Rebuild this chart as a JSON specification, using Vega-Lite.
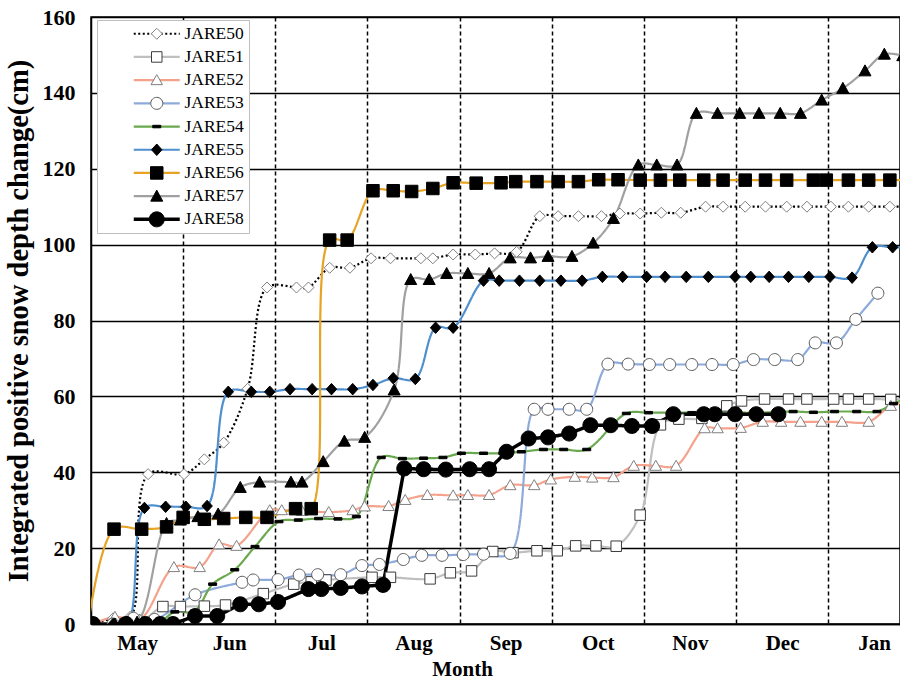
{
  "$schema": "https://vega.github.io/schema/vega-lite/v6.json",
  "width": 809,
  "height": 607,
  "autosize": {"type": "none"},
  "padding": {"left": 91, "top": 17, "right": 0, "bottom": 59},
  "background": "white",
  "config": {
    "view": {"stroke": "black", "strokeWidth": 1.5},
    "font": "Liberation Serif"
  },
  "datasets": {
    "snow": [
      {"s":"JARE50","m":0.02,"v":0},{"s":"JARE50","m":0.24,"v":1.5},{"s":"JARE50","m":0.43,"v":2},{"s":"JARE50","m":0.62,"v":39.5},{"s":"JARE50","m":1.01,"v":39.5},{"s":"JARE50","m":1.23,"v":43.4},{"s":"JARE50","m":1.44,"v":47.8},{"s":"JARE50","m":1.70,"v":62},{"s":"JARE50","m":1.91,"v":88.7},{"s":"JARE50","m":2.23,"v":88.7},{"s":"JARE50","m":2.36,"v":88.7},{"s":"JARE50","m":2.59,"v":93.9},{"s":"JARE50","m":2.81,"v":93.9},{"s":"JARE50","m":3.04,"v":96.4},{"s":"JARE50","m":3.25,"v":96.4},{"s":"JARE50","m":3.58,"v":96.4},{"s":"JARE50","m":3.71,"v":96.4},{"s":"JARE50","m":3.93,"v":97.4},{"s":"JARE50","m":4.17,"v":97.4},{"s":"JARE50","m":4.38,"v":97.7},{"s":"JARE50","m":4.62,"v":98.1},{"s":"JARE50","m":4.87,"v":107.5},{"s":"JARE50","m":5.07,"v":107.5},{"s":"JARE50","m":5.29,"v":107.5},{"s":"JARE50","m":5.54,"v":107.5},{"s":"JARE50","m":5.74,"v":108.2},{"s":"JARE50","m":5.96,"v":108.2},{"s":"JARE50","m":6.19,"v":108.4},{"s":"JARE50","m":6.40,"v":108.4},{"s":"JARE50","m":6.67,"v":110},{"s":"JARE50","m":6.86,"v":110},{"s":"JARE50","m":7.10,"v":110},{"s":"JARE50","m":7.32,"v":110},{"s":"JARE50","m":7.55,"v":110},{"s":"JARE50","m":7.77,"v":110},{"s":"JARE50","m":8.03,"v":110},{"s":"JARE50","m":8.22,"v":110},{"s":"JARE50","m":8.44,"v":110},{"s":"JARE50","m":8.67,"v":110},{"s":"JARE50","m":8.91,"v":110},

      {"s":"JARE51","m":0.02,"v":0},{"s":"JARE51","m":0.26,"v":0},{"s":"JARE51","m":0.53,"v":0.5},{"s":"JARE51","m":0.78,"v":4.6},{"s":"JARE51","m":0.97,"v":4.6},{"s":"JARE51","m":1.23,"v":4.7},{"s":"JARE51","m":1.46,"v":5},{"s":"JARE51","m":1.87,"v":8},{"s":"JARE51","m":2.20,"v":10.5},{"s":"JARE51","m":2.39,"v":11.1},{"s":"JARE51","m":2.55,"v":11.6},{"s":"JARE51","m":3.05,"v":12.3},{"s":"JARE51","m":3.25,"v":12.3},{"s":"JARE51","m":3.68,"v":11.9},{"s":"JARE51","m":3.90,"v":13.5},{"s":"JARE51","m":4.13,"v":14},{"s":"JARE51","m":4.36,"v":19.1},{"s":"JARE51","m":4.58,"v":18.8},{"s":"JARE51","m":4.84,"v":19.3},{"s":"JARE51","m":5.06,"v":19.3},{"s":"JARE51","m":5.26,"v":20.6},{"s":"JARE51","m":5.48,"v":20.6},{"s":"JARE51","m":5.70,"v":20.5},{"s":"JARE51","m":5.96,"v":28.7},{"s":"JARE51","m":6.18,"v":52.5},{"s":"JARE51","m":6.38,"v":54},{"s":"JARE51","m":6.63,"v":54.2},{"s":"JARE51","m":6.90,"v":57.5},{"s":"JARE51","m":7.06,"v":58.8},{"s":"JARE51","m":7.31,"v":59.3},{"s":"JARE51","m":7.57,"v":59.3},{"s":"JARE51","m":7.77,"v":59.3},{"s":"JARE51","m":8.06,"v":59.3},{"s":"JARE51","m":8.22,"v":59.3},{"s":"JARE51","m":8.44,"v":59.3},{"s":"JARE51","m":8.68,"v":59.2},{"s":"JARE51","m":8.91,"v":59.2},

      {"s":"JARE52","m":0.02,"v":0},{"s":"JARE52","m":0.26,"v":1.9},{"s":"JARE52","m":0.53,"v":1.2},{"s":"JARE52","m":0.90,"v":15},{"s":"JARE52","m":1.18,"v":15},{"s":"JARE52","m":1.39,"v":21},{"s":"JARE52","m":1.58,"v":20.6},{"s":"JARE52","m":1.94,"v":30},{"s":"JARE52","m":2.07,"v":30},{"s":"JARE52","m":2.29,"v":29.8},{"s":"JARE52","m":2.58,"v":29.5},{"s":"JARE52","m":2.84,"v":30},{"s":"JARE52","m":2.97,"v":31},{"s":"JARE52","m":3.23,"v":31.1},{"s":"JARE52","m":3.41,"v":32.7},{"s":"JARE52","m":3.65,"v":34},{"s":"JARE52","m":3.93,"v":33.9},{"s":"JARE52","m":4.09,"v":34},{"s":"JARE52","m":4.32,"v":34},{"s":"JARE52","m":4.55,"v":36.6},{"s":"JARE52","m":4.81,"v":36.6},{"s":"JARE52","m":4.99,"v":38.1},{"s":"JARE52","m":5.25,"v":38.8},{"s":"JARE52","m":5.44,"v":38.6},{"s":"JARE52","m":5.67,"v":38.7},{"s":"JARE52","m":5.89,"v":41.7},{"s":"JARE52","m":6.13,"v":41.7},{"s":"JARE52","m":6.35,"v":41.7},{"s":"JARE52","m":6.66,"v":51.6},{"s":"JARE52","m":6.80,"v":51.6},{"s":"JARE52","m":7.05,"v":51.7},{"s":"JARE52","m":7.29,"v":53.3},{"s":"JARE52","m":7.49,"v":53.3},{"s":"JARE52","m":7.70,"v":53.3},{"s":"JARE52","m":7.93,"v":53.3},{"s":"JARE52","m":8.15,"v":53.3},{"s":"JARE52","m":8.44,"v":53.3},{"s":"JARE52","m":8.68,"v":57.5},{"s":"JARE52","m":8.91,"v":59},

      {"s":"JARE53","m":0.02,"v":0},{"s":"JARE53","m":0.24,"v":0},{"s":"JARE53","m":0.46,"v":1.5},{"s":"JARE53","m":0.69,"v":1.2},{"s":"JARE53","m":1.13,"v":7.7},{"s":"JARE53","m":1.64,"v":11},{"s":"JARE53","m":1.76,"v":11.6},{"s":"JARE53","m":2.03,"v":11.7},{"s":"JARE53","m":2.26,"v":12.9},{"s":"JARE53","m":2.46,"v":13},{"s":"JARE53","m":2.71,"v":13},{"s":"JARE53","m":2.94,"v":15.4},{"s":"JARE53","m":3.13,"v":15.7},{"s":"JARE53","m":3.39,"v":17},{"s":"JARE53","m":3.59,"v":18.1},{"s":"JARE53","m":3.81,"v":18.1},{"s":"JARE53","m":4.04,"v":18.3},{"s":"JARE53","m":4.26,"v":18.4},{"s":"JARE53","m":4.55,"v":18.6},{"s":"JARE53","m":4.81,"v":56.6},{"s":"JARE53","m":4.96,"v":56.6},{"s":"JARE53","m":5.19,"v":56.6},{"s":"JARE53","m":5.38,"v":56.6},{"s":"JARE53","m":5.61,"v":68.5},{"s":"JARE53","m":5.83,"v":68.5},{"s":"JARE53","m":6.06,"v":68.4},{"s":"JARE53","m":6.28,"v":68.4},{"s":"JARE53","m":6.52,"v":68.4},{"s":"JARE53","m":6.74,"v":68.4},{"s":"JARE53","m":6.97,"v":68.4},{"s":"JARE53","m":7.19,"v":69.7},{"s":"JARE53","m":7.42,"v":69.7},{"s":"JARE53","m":7.67,"v":69.7},{"s":"JARE53","m":7.86,"v":74.1},{"s":"JARE53","m":8.09,"v":74.1},{"s":"JARE53","m":8.30,"v":80.3},{"s":"JARE53","m":8.54,"v":87.2},

      {"s":"JARE54","m":0.02,"v":0},{"s":"JARE54","m":0.26,"v":0},{"s":"JARE54","m":0.50,"v":0},{"s":"JARE54","m":0.73,"v":0.3},{"s":"JARE54","m":0.91,"v":3.2},{"s":"JARE54","m":1.12,"v":3.3},{"s":"JARE54","m":1.32,"v":10.5},{"s":"JARE54","m":1.56,"v":14.3},{"s":"JARE54","m":1.78,"v":20.4},{"s":"JARE54","m":2.04,"v":27},{"s":"JARE54","m":2.25,"v":27.4},{"s":"JARE54","m":2.47,"v":27.8},{"s":"JARE54","m":2.68,"v":27.7},{"s":"JARE54","m":2.88,"v":28.3},{"s":"JARE54","m":3.15,"v":43.9},{"s":"JARE54","m":3.38,"v":43.6},{"s":"JARE54","m":3.61,"v":43.7},{"s":"JARE54","m":3.82,"v":43.9},{"s":"JARE54","m":4.02,"v":45},{"s":"JARE54","m":4.26,"v":45},{"s":"JARE54","m":4.47,"v":45},{"s":"JARE54","m":4.67,"v":45.4},{"s":"JARE54","m":4.91,"v":46},{"s":"JARE54","m":5.13,"v":46},{"s":"JARE54","m":5.38,"v":46},{"s":"JARE54","m":5.81,"v":55.5},{"s":"JARE54","m":6.05,"v":55.7},{"s":"JARE54","m":6.30,"v":55.7},{"s":"JARE54","m":6.52,"v":55.7},{"s":"JARE54","m":6.77,"v":55.7},{"s":"JARE54","m":7.01,"v":55.7},{"s":"JARE54","m":7.25,"v":55.7},{"s":"JARE54","m":7.62,"v":56},{"s":"JARE54","m":7.84,"v":55.8},{"s":"JARE54","m":8.07,"v":56},{"s":"JARE54","m":8.31,"v":56},{"s":"JARE54","m":8.53,"v":56},{"s":"JARE54","m":8.71,"v":58.1},{"s":"JARE54","m":8.91,"v":60},

      {"s":"JARE55","m":0.02,"v":0},{"s":"JARE55","m":0.24,"v":0},{"s":"JARE55","m":0.40,"v":0.5},{"s":"JARE55","m":0.58,"v":30.6},{"s":"JARE55","m":0.81,"v":30.9},{"s":"JARE55","m":1.03,"v":30.9},{"s":"JARE55","m":1.26,"v":31.1},{"s":"JARE55","m":1.49,"v":61.2},{"s":"JARE55","m":1.74,"v":61.2},{"s":"JARE55","m":1.94,"v":61.2},{"s":"JARE55","m":2.16,"v":61.9},{"s":"JARE55","m":2.40,"v":61.9},{"s":"JARE55","m":2.61,"v":61.9},{"s":"JARE55","m":2.84,"v":61.9},{"s":"JARE55","m":3.06,"v":63},{"s":"JARE55","m":3.28,"v":64.8},{"s":"JARE55","m":3.52,"v":64.6},{"s":"JARE55","m":3.74,"v":78.1},{"s":"JARE55","m":3.93,"v":78.1},{"s":"JARE55","m":4.26,"v":90.5},{"s":"JARE55","m":4.43,"v":90.5},{"s":"JARE55","m":4.65,"v":90.5},{"s":"JARE55","m":4.87,"v":90.5},{"s":"JARE55","m":5.10,"v":90.5},{"s":"JARE55","m":5.33,"v":90.5},{"s":"JARE55","m":5.55,"v":91.5},{"s":"JARE55","m":5.77,"v":91.5},{"s":"JARE55","m":6.03,"v":91.5},{"s":"JARE55","m":6.23,"v":91.5},{"s":"JARE55","m":6.46,"v":91.5},{"s":"JARE55","m":6.70,"v":91.5},{"s":"JARE55","m":6.99,"v":91.5},{"s":"JARE55","m":7.16,"v":91.5},{"s":"JARE55","m":7.36,"v":91.5},{"s":"JARE55","m":7.57,"v":91.5},{"s":"JARE55","m":7.79,"v":91.5},{"s":"JARE55","m":8.02,"v":91.5},{"s":"JARE55","m":8.26,"v":91.3},{"s":"JARE55","m":8.48,"v":99.3},{"s":"JARE55","m":8.70,"v":99.3},{"s":"JARE55","m":8.91,"v":99.3},

      {"s":"JARE56","m":-0.03,"v":0},{"s":"JARE56","m":0.25,"v":25},{"s":"JARE56","m":0.55,"v":25},{"s":"JARE56","m":0.82,"v":25.6},{"s":"JARE56","m":1.00,"v":28.1},{"s":"JARE56","m":1.23,"v":27.6},{"s":"JARE56","m":1.44,"v":27.8},{"s":"JARE56","m":1.68,"v":28.1},{"s":"JARE56","m":1.91,"v":28.1},{"s":"JARE56","m":2.22,"v":30.4},{"s":"JARE56","m":2.39,"v":30.4},{"s":"JARE56","m":2.59,"v":101.2},{"s":"JARE56","m":2.78,"v":101.2},{"s":"JARE56","m":3.06,"v":114.2},{"s":"JARE56","m":3.28,"v":114.2},{"s":"JARE56","m":3.48,"v":114},{"s":"JARE56","m":3.71,"v":114.8},{"s":"JARE56","m":3.93,"v":116.3},{"s":"JARE56","m":4.18,"v":116.2},{"s":"JARE56","m":4.45,"v":116.3},{"s":"JARE56","m":4.61,"v":116.6},{"s":"JARE56","m":4.84,"v":116.6},{"s":"JARE56","m":5.07,"v":116.6},{"s":"JARE56","m":5.29,"v":116.6},{"s":"JARE56","m":5.51,"v":117.1},{"s":"JARE56","m":5.72,"v":117.1},{"s":"JARE56","m":5.96,"v":117},{"s":"JARE56","m":6.18,"v":117},{"s":"JARE56","m":6.39,"v":117},{"s":"JARE56","m":6.65,"v":117},{"s":"JARE56","m":6.86,"v":117},{"s":"JARE56","m":7.10,"v":117},{"s":"JARE56","m":7.32,"v":117},{"s":"JARE56","m":7.55,"v":117},{"s":"JARE56","m":7.84,"v":117},{"s":"JARE56","m":7.98,"v":117},{"s":"JARE56","m":8.22,"v":117},{"s":"JARE56","m":8.44,"v":117},{"s":"JARE56","m":8.67,"v":117},{"s":"JARE56","m":8.91,"v":117},

      {"s":"JARE57","m":0.02,"v":0},{"s":"JARE57","m":0.26,"v":0},{"s":"JARE57","m":0.50,"v":0.5},{"s":"JARE57","m":0.82,"v":26.5},{"s":"JARE57","m":0.97,"v":27.4},{"s":"JARE57","m":1.16,"v":28.3},{"s":"JARE57","m":1.38,"v":29},{"s":"JARE57","m":1.62,"v":36},{"s":"JARE57","m":1.83,"v":37.4},{"s":"JARE57","m":2.17,"v":37.4},{"s":"JARE57","m":2.29,"v":37.4},{"s":"JARE57","m":2.52,"v":42.8},{"s":"JARE57","m":2.75,"v":48.2},{"s":"JARE57","m":2.97,"v":49.2},{"s":"JARE57","m":3.29,"v":61.7},{"s":"JARE57","m":3.47,"v":90.8},{"s":"JARE57","m":3.67,"v":90.8},{"s":"JARE57","m":3.86,"v":92.4},{"s":"JARE57","m":4.09,"v":92.4},{"s":"JARE57","m":4.32,"v":92.4},{"s":"JARE57","m":4.55,"v":96.5},{"s":"JARE57","m":4.77,"v":96.5},{"s":"JARE57","m":4.96,"v":96.9},{"s":"JARE57","m":5.22,"v":96.9},{"s":"JARE57","m":5.45,"v":100.4},{"s":"JARE57","m":5.67,"v":106.9},{"s":"JARE57","m":5.94,"v":121},{"s":"JARE57","m":6.14,"v":121},{"s":"JARE57","m":6.36,"v":121},{"s":"JARE57","m":6.57,"v":134.6},{"s":"JARE57","m":6.80,"v":134.6},{"s":"JARE57","m":7.04,"v":134.6},{"s":"JARE57","m":7.25,"v":134.6},{"s":"JARE57","m":7.48,"v":134.6},{"s":"JARE57","m":7.70,"v":134.6},{"s":"JARE57","m":7.93,"v":138.1},{"s":"JARE57","m":8.16,"v":141.2},{"s":"JARE57","m":8.40,"v":145.8},{"s":"JARE57","m":8.61,"v":150.2},{"s":"JARE57","m":8.81,"v":149.8},

      {"s":"JARE58","m":0.02,"v":0},{"s":"JARE58","m":0.38,"v":0},{"s":"JARE58","m":0.59,"v":0},{"s":"JARE58","m":0.75,"v":0},{"s":"JARE58","m":0.89,"v":0},{"s":"JARE58","m":1.13,"v":2.1},{"s":"JARE58","m":1.37,"v":2.1},{"s":"JARE58","m":1.62,"v":5.2},{"s":"JARE58","m":1.82,"v":5.2},{"s":"JARE58","m":2.03,"v":5.8},{"s":"JARE58","m":2.36,"v":9.2},{"s":"JARE58","m":2.50,"v":9.2},{"s":"JARE58","m":2.71,"v":9.5},{"s":"JARE58","m":2.94,"v":9.9},{"s":"JARE58","m":3.17,"v":10.3},{"s":"JARE58","m":3.40,"v":41},{"s":"JARE58","m":3.61,"v":40.8},{"s":"JARE58","m":3.85,"v":40.7},{"s":"JARE58","m":4.11,"v":40.8},{"s":"JARE58","m":4.32,"v":40.8},{"s":"JARE58","m":4.51,"v":45.4},{"s":"JARE58","m":4.75,"v":48.9},{"s":"JARE58","m":4.96,"v":49.2},{"s":"JARE58","m":5.19,"v":50.2},{"s":"JARE58","m":5.42,"v":52.4},{"s":"JARE58","m":5.64,"v":52.4},{"s":"JARE58","m":5.87,"v":52.2},{"s":"JARE58","m":6.09,"v":52.2},{"s":"JARE58","m":6.32,"v":55.3},{"s":"JARE58","m":6.65,"v":55.3},{"s":"JARE58","m":6.77,"v":55.3},{"s":"JARE58","m":6.99,"v":55.3},{"s":"JARE58","m":7.22,"v":55.3},{"s":"JARE58","m":7.46,"v":55.3}
    ]
  },
  "data": {"name": "snow"},
  "encoding": {
    "x": {
      "field": "m",
      "type": "quantitative",
      "title": "Month",
      "scale": {"domain": [0, 8.78], "nice": false, "zero": false},
      "axis": {
        "values": [0.5, 1, 1.5, 2, 2.5, 3, 3.5, 4, 4.5, 5, 5.5, 6, 6.5, 7, 7.5, 8, 8.5],
        "labelExpr": "datum.value % 1 === 0 ? '' : ['May','Jun','Jul','Aug','Sep','Oct','Nov','Dec','Jan'][floor(datum.value)]",
        "ticks": false,
        "grid": true,
        "gridColor": "black",
        "gridDash": [4, 3],
        "gridWidth": 1.5,
        "gridOpacity": {"condition": {"test": "datum.value % 1 !== 0", "value": 0}, "value": 1},
        "domainColor": "black",
        "domainWidth": 1.5,
        "labelFont": "Liberation Serif",
        "labelFontWeight": "bold",
        "labelFontSize": 21,
        "labelColor": "black",
        "labelPadding": 8,
        "labelOverlap": false,
        "labelFlush": false,
        "titleFont": "Liberation Serif",
        "titleFontWeight": "bold",
        "titleFontSize": 21,
        "titleColor": "black",
        "titleX": 371,
        "titlePadding": 5
      }
    },
    "y": {
      "field": "v",
      "type": "quantitative",
      "title": "Integrated positive snow depth change(cm)",
      "scale": {"domain": [0, 160], "nice": false},
      "axis": {
        "values": [0, 20, 40, 60, 80, 100, 120, 140, 160],
        "ticks": false,
        "grid": true,
        "gridColor": "black",
        "gridWidth": 1.5,
        "domainColor": "black",
        "domainWidth": 1.5,
        "labelFont": "Liberation Serif",
        "labelFontWeight": "bold",
        "labelFontSize": 22,
        "labelColor": "black",
        "labelPadding": 16,
        "titleFont": "Liberation Serif",
        "titleFontWeight": "bold",
        "titleFontSize": 28.5,
        "titleColor": "black",
        "titlePadding": 9
      }
    }
  },
  "layer": [
    {
      "transform": [{"filter": "datum.s !== 'JARE58'"}],
      "mark": {"type": "line", "interpolate": "catmull-rom", "strokeWidth": 2.2, "clip": true},
      "encoding": {
        "color": {
          "field": "s", "type": "nominal",
          "scale": {
            "domain": ["JARE50","JARE51","JARE52","JARE53","JARE54","JARE55","JARE56","JARE57","JARE58"],
            "range": ["#000000","#bfbfbf","#f4a28c","#8eaadb","#6aa84f","#4f8fcd","#e6a324","#a0a0a0","#000000"]
          },
          "legend": {
            "orient": "none", "legendX": 6, "legendY": 3, "title": null, "zindex": 1,
            "padding": 5, "rowPadding": 4.2, "symbolType": "M-4.6,0H4.6", "symbolSize": 100,
            "symbolOffset": 46, "labelOffset": 19, "labelFont": "Liberation Serif", "labelFontSize": 17.5,
            "labelExpr": "datum.label + '\u00a0\u00a0\u00a0\u00a0\u00a0\u00a0\u00a0'",
            "labelColor": "black", "strokeColor": "#bfbfbf", "fillColor": "white",
            "encode": {"symbols": {"update": {"strokeWidth": {"signal": "datum.value === 'JARE58' ? 3.5 : 2.2"}}}}
          }
        },
        "strokeDash": {
          "field": "s", "type": "nominal",
          "scale": {
            "domain": ["JARE50","JARE51","JARE52","JARE53","JARE54","JARE55","JARE56","JARE57","JARE58"],
            "range": [[2, 2.5], [1, 0], [1, 0], [1, 0], [1, 0], [1, 0], [1, 0], [1, 0], [1, 0]]
          },
          "legend": {
            "orient": "none", "legendX": 6, "legendY": 3, "title": null, "zindex": 1,
            "padding": 5, "rowPadding": 4.2, "symbolType": "M-4.6,0H4.6", "symbolSize": 100,
            "symbolOffset": 46, "labelOffset": 19, "labelFont": "Liberation Serif", "labelFontSize": 17.5,
            "labelExpr": "datum.label + '\u00a0\u00a0\u00a0\u00a0\u00a0\u00a0\u00a0'",
            "labelColor": "black", "strokeColor": "#bfbfbf", "fillColor": "white"
          }
        }
      }
    },
    {
      "transform": [{"filter": "datum.s === 'JARE58'"}],
      "mark": {"type": "line", "strokeWidth": 3.5, "clip": true},
      "encoding": {
        "color": {"field": "s", "type": "nominal"},
        "strokeDash": {"field": "s", "type": "nominal"}
      }
    },
    {
      "mark": {"type": "point", "size": 100, "opacity": 1, "strokeWidth": 1, "clip": true},
      "encoding": {
        "shape": {
          "field": "s", "type": "nominal",
          "scale": {
            "range": [
              "M0,-1.1L1.1,0L0,1.1L-1.1,0Z",
              "M-1.05,-1.05H1.05V1.05H-1.05Z",
              "M0,-1.1L1.15,0.9H-1.15Z",
              "M1.2,0A1.2,1.2 0 1,1 -1.2,0A1.2,1.2 0 1,1 1.2,0Z",
              "M-0.8,-0.25H0.8V0.25H-0.8Z",
              "M0,-1.15L1.05,0L0,1.15L-1.05,0Z",
              "M-1.25,-1.25H1.25V1.25H-1.25Z",
              "M0,-1.2L1.2,1H-1.2Z",
              "M1.5,0A1.5,1.5 0 1,1 -1.5,0A1.5,1.5 0 1,1 1.5,0Z"
            ]
          },
          "legend": {
            "orient": "none", "legendX": 6, "legendY": 3, "title": null, "zindex": 2,
            "padding": 5, "rowPadding": 4.2, "symbolSize": 100, "symbolOffset": 46, "labelOffset": 19,
            "labelFontSize": 17.5, "labelExpr": "''", "strokeColor": "transparent", "fillColor": "transparent",
            "symbolOpacity": 1, "symbolStrokeWidth": 1
          }
        },
        "fill": {
          "field": "s", "type": "nominal",
          "scale": {"range": ["#ffffff","#ffffff","#ffffff","#ffffff","#000000","#000000","#000000","#000000","#000000"]},
          "legend": {
            "orient": "none", "legendX": 6, "legendY": 3, "title": null, "zindex": 2,
            "padding": 5, "rowPadding": 4.2, "symbolSize": 100, "symbolOffset": 46, "labelOffset": 19,
            "labelFontSize": 17.5, "labelExpr": "''", "strokeColor": "transparent", "fillColor": "transparent",
            "symbolOpacity": 1, "symbolStrokeWidth": 1
          }
        },
        "stroke": {
          "field": "s", "type": "nominal",
          "scale": {"range": ["#808080","#3c3c3c","#808080","#595959","#000000","#000000","#000000","#000000","#000000"]},
          "legend": {
            "orient": "none", "legendX": 6, "legendY": 3, "title": null, "zindex": 2,
            "padding": 5, "rowPadding": 4.2, "symbolSize": 100, "symbolOffset": 46, "labelOffset": 19,
            "labelFontSize": 17.5, "labelExpr": "''", "strokeColor": "transparent", "fillColor": "transparent",
            "symbolOpacity": 1, "symbolStrokeWidth": 1
          }
        }
      }
    }
  ]
}
